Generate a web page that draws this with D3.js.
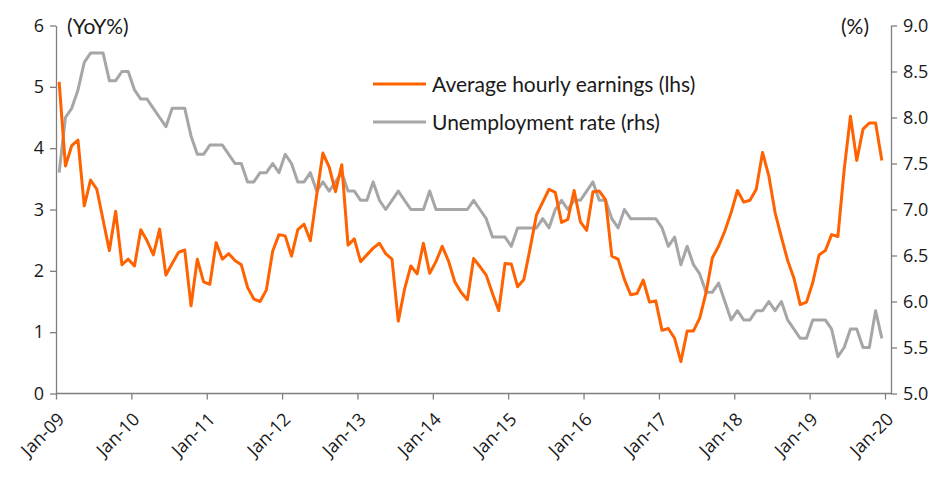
<!DOCTYPE html>
<html>
<head>
<meta charset="utf-8">
<script src="https://cdn.jsdelivr.net/npm/d3@7"></script>
<style>
  html, body { margin: 0; padding: 0; background: #fff; }
  svg { display: block; }
  .tick text { font-family: "Open Sans", "Noto Sans", sans-serif; font-size: 18px; fill: #1a1a1a; }
  .xaxis .tick text { font-size: 18px; }
  .lbl { font-family: Lato, "Noto Sans", sans-serif; font-size: 21px; fill: #1a1a1a; }
</style>
</head>
<body>
<svg id="chart" width="952" height="491"></svg>
<script>
// Monthly data, Jan-09 .. Dec-19
const earnings = [
  5.08,3.71,4.04,4.13,3.06,3.48,3.33,2.83,2.33,2.97,2.10,2.19,
  2.08,2.67,2.49,2.26,2.68,1.93,2.12,2.30,2.34,1.43,2.19,1.82,
  1.78,2.46,2.19,2.28,2.17,2.10,1.73,1.54,1.50,1.69,2.32,2.59,
  2.57,2.24,2.67,2.76,2.49,3.23,3.92,3.69,3.29,3.73,2.42,2.52,
  2.15,2.26,2.37,2.45,2.28,2.19,1.18,1.70,2.08,1.95,2.45,1.96,
  2.15,2.40,2.16,1.82,1.65,1.53,2.20,2.07,1.93,1.63,1.35,2.12,
  2.11,1.74,1.86,2.37,2.91,3.12,3.33,3.28,2.79,2.84,3.31,2.80,
  2.66,3.29,3.30,3.16,2.24,2.19,1.86,1.61,1.63,1.85,1.49,1.51,
  1.03,1.06,0.90,0.52,1.02,1.02,1.23,1.64,2.21,2.40,2.65,2.95,
  3.31,3.12,3.15,3.33,3.93,3.55,2.95,2.55,2.17,1.88,1.45,1.49,
  1.81,2.26,2.33,2.59,2.56,3.65,4.52,3.80,4.31,4.41,4.41,3.80
];
const unemployment = [
  7.4,8.0,8.1,8.3,8.6,8.7,8.7,8.7,8.4,8.4,8.5,8.5,
  8.3,8.2,8.2,8.1,8.0,7.9,8.1,8.1,8.1,7.8,7.6,7.6,
  7.7,7.7,7.7,7.6,7.5,7.5,7.3,7.3,7.4,7.4,7.5,7.4,
  7.6,7.5,7.3,7.3,7.4,7.2,7.3,7.2,7.3,7.4,7.2,7.2,
  7.1,7.1,7.3,7.1,7.0,7.1,7.2,7.1,7.0,7.0,7.0,7.2,
  7.0,7.0,7.0,7.0,7.0,7.0,7.1,7.0,6.9,6.7,6.7,6.7,
  6.6,6.8,6.8,6.8,6.8,6.9,6.8,7.0,7.1,7.0,7.1,7.1,
  7.2,7.3,7.1,7.1,6.9,6.8,7.0,6.9,6.9,6.9,6.9,6.9,
  6.8,6.6,6.7,6.4,6.6,6.4,6.3,6.1,6.1,6.2,6.0,5.8,
  5.9,5.8,5.8,5.9,5.9,6.0,5.9,6.0,5.8,5.7,5.6,5.6,
  5.8,5.8,5.8,5.7,5.4,5.5,5.7,5.7,5.5,5.5,5.9,5.6
];
const xTickLabels = ["Jan-09","Jan-10","Jan-11","Jan-12","Jan-13","Jan-14","Jan-15","Jan-16","Jan-17","Jan-18","Jan-19","Jan-20"];
const leftTicks = [0,1,2,3,4,5,6];
const rightTicks = [5.0,5.5,6.0,6.5,7.0,7.5,8.0,8.5,9.0];
const seriesNames = ["Average hourly earnings (lhs)","Unemployment rate (rhs)"];
const colors = ["#FF6200","#A6A6A6"];

(function () {
const svg = d3.select("#chart");
const mLeft = 56, mRight = 891, mTop = 25.5, mBottom = 393.5;
const nMonths = (xTickLabels.length - 1) * 12; // months between Jan-09 and Jan-20

const x = d3.scaleLinear().domain([0, nMonths]).range([mLeft, 885]);
const yL = d3.scaleLinear().domain([0, 6]).range([mBottom, mTop]);
const yR = d3.scaleLinear().domain([5, 9]).range([mBottom, mTop]);
const axisColor = "#7f7f7f";

// bottom axis
const xAxis = d3.axisBottom(x)
  .tickValues(xTickLabels.map((d, i) => i * 12))
  .tickFormat((d, i) => xTickLabels[i])
  .tickSize(6).tickSizeOuter(0);
const gx = svg.append("g").attr("class", "xaxis").attr("transform", `translate(0,${mBottom})`).call(xAxis);
gx.select(".domain").remove();
gx.append("line").attr("x1", mLeft).attr("x2", mRight).attr("y1", 0).attr("y2", 0)
  .attr("stroke", axisColor).attr("stroke-width", 1.3);
gx.selectAll(".tick line").attr("stroke", axisColor).attr("stroke-width", 1.3);
gx.selectAll(".tick text")
  .attr("text-anchor", "end")
  .attr("dy", null).attr("y", 0)
  .attr("transform", "translate(9,27) rotate(-45)");

// left axis
const gl = svg.append("g").attr("transform", `translate(${mLeft},0)`)
  .call(d3.axisLeft(yL).tickValues(leftTicks).tickFormat(d3.format("d")).tickSize(6).tickSizeOuter(0).tickPadding(6));
gl.select(".domain").attr("stroke", axisColor).attr("stroke-width", 1.3);
gl.selectAll(".tick line").attr("stroke", axisColor).attr("stroke-width", 1.3);

// right axis
const gr = svg.append("g").attr("transform", `translate(${mRight},0)`)
  .call(d3.axisRight(yR).tickValues(rightTicks).tickFormat(d3.format(".1f")).tickSize(6).tickSizeOuter(0).tickPadding(6));
gr.select(".domain").attr("stroke", axisColor).attr("stroke-width", 1.3);
gr.selectAll(".tick line").attr("stroke", axisColor).attr("stroke-width", 1.3);

// lines
const lineL = d3.line().x((d, i) => x(i + 0.5)).y(d => yL(d));
const lineR = d3.line().x((d, i) => x(i + 0.5)).y(d => yR(d));
svg.append("path").datum(unemployment).attr("d", lineR)
  .attr("fill", "none").attr("stroke", colors[1]).attr("stroke-width", 3).attr("stroke-linejoin", "round");
svg.append("path").datum(earnings).attr("d", lineL)
  .attr("fill", "none").attr("stroke", colors[0]).attr("stroke-width", 3).attr("stroke-linejoin", "round");

// unit labels
svg.append("text").attr("class", "lbl").attr("x", 67).attr("y", 34).text("(YoY%)");
svg.append("text").attr("class", "lbl").attr("x", 869).attr("y", 34).attr("text-anchor", "end").text("(%)");

// legend
const lg = svg.append("g");
seriesNames.forEach((name, i) => {
  const yy = 84 + i * 38;
  lg.append("line").attr("x1", 373).attr("x2", 426).attr("y1", yy).attr("y2", yy)
    .attr("stroke", colors[i]).attr("stroke-width", 3);
  lg.append("text").attr("class", "lbl").attr("x", 432).attr("y", yy + 7.5).text(name);
});
})();
</script>
</body>
</html>
